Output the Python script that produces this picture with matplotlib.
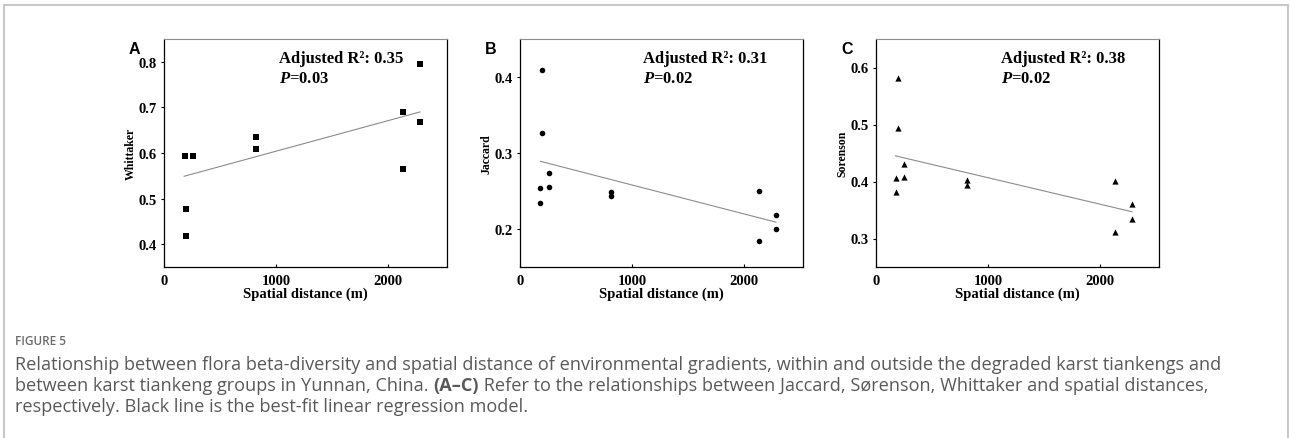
import numpy as np
import matplotlib
matplotlib.use("Agg")
import matplotlib.pyplot as plt
from matplotlib.patches import Rectangle

plt.rcParams['mathtext.fontset'] = 'custom'
plt.rcParams['mathtext.it'] = 'Liberation Serif:italic:bold'
plt.rcParams['mathtext.rm'] = 'Liberation Serif:bold'

# Panel A - Whittaker
whit_x = [183, 260, 198, 198, 817, 817, 2130, 2130, 2283, 2283]
whit_y = [0.594, 0.594, 0.477, 0.419, 0.636, 0.609, 0.689, 0.564, 0.796, 0.667]
whit_fit_x = [180, 2283]
whit_fit_y = [0.549, 0.690]

# Panel B - Jaccard
jac_x = [196, 196, 255, 255, 175, 175, 815, 815, 2133, 2133, 2283, 2283]
jac_y = [0.409, 0.326, 0.274, 0.255, 0.254, 0.234, 0.249, 0.244, 0.250, 0.184, 0.219, 0.200]
jac_fit_x = [184, 2283]
jac_fit_y = [0.289, 0.209]

# Panel C - Sorenson
sor_x = [195, 195, 254, 254, 174, 174, 814, 814, 2130, 2130, 2283, 2283]
sor_y = [0.582, 0.493, 0.431, 0.408, 0.406, 0.381, 0.402, 0.393, 0.401, 0.312, 0.360, 0.335]
sor_fit_x = [174, 2283]
sor_fit_y = [0.445, 0.347]

panels = [
    dict(letter="A", x=whit_x, y=whit_y, fx=whit_fit_x, fy=whit_fit_y, marker="s",
         ylabel="Whittaker", ylim=(0.35, 0.85), yticks=[0.4, 0.5, 0.6, 0.7, 0.8],
         r2="0.35", p="0.03", left=164, tx=0.406),
    dict(letter="B", x=jac_x, y=jac_y, fx=jac_fit_x, fy=jac_fit_y, marker="o",
         ylabel="Jaccard", ylim=(0.15, 0.45), yticks=[0.2, 0.3, 0.4],
         r2="0.31", p="0.02", left=520, tx=0.435),
    dict(letter="C", x=sor_x, y=sor_y, fx=sor_fit_x, fy=sor_fit_y, marker="^",
         ylabel="Sorenson", ylim=(0.25, 0.65), yticks=[0.3, 0.4, 0.5, 0.6],
         r2="0.38", p="0.02", left=876, tx=0.44),
]

W, H = 1290, 439
fig = plt.figure(figsize=(12.9, 4.39), dpi=100)
serif = "Liberation Serif"

for p in panels:
    ax = fig.add_axes([p["left"] / W, 1 - 268 / H, 283 / W, 228 / H])
    ms = 16 if p["marker"] != "^" else 20
    ax.scatter(p["x"], p["y"], marker=p["marker"], s=ms, color="black", linewidths=0)
    ax.plot(p["fx"], p["fy"], color="#8c8c8c", lw=0.8)
    ax.set_xlim(0, 2525)
    ax.set_ylim(*p["ylim"])
    ax.set_xticks([0, 1000, 2000])
    ax.set_yticks(p["yticks"])
    ax.set_yticklabels([f"{v:.1f}" for v in p["yticks"]])
    for lab in ax.get_xticklabels() + ax.get_yticklabels():
        lab.set_fontfamily(serif)
        lab.set_fontweight("bold")
        lab.set_fontsize(10.5)
    ax.tick_params(axis="y", direction="out", length=2.5, width=0.8, pad=3)
    ax.tick_params(axis="x", direction="in", length=2.5, width=0.8, pad=5)
    for side in ["left", "bottom", "right"]:
        ax.spines[side].set_linewidth(0.9)
    ax.spines["top"].set_color("#8c8c8c")
    ax.spines["top"].set_linewidth(0.8)
    ax.set_xlabel("Spatial distance (m)", fontfamily=serif, fontweight="bold",
                  fontsize=10.5, labelpad=0)
    ax.set_ylabel(p["ylabel"], fontfamily=serif, fontweight="bold", fontsize=8.5, labelpad=1)
    ax.text(p["tx"], 0.95, "Adjusted R\u00b2: " + p["r2"], transform=ax.transAxes,
            fontfamily=serif, fontweight="bold", fontsize=12, va="top")
    ax.text(p["tx"], 0.865, "$P$=" + p["p"], transform=ax.transAxes,
            fontfamily=serif, fontweight="bold", fontsize=12, va="top")
    fig.text((p["left"] - 35) / W, 1 - 42 / H, p["letter"], fontfamily="Liberation Sans",
             fontweight="bold", fontsize=11.5, va="top")

# caption
cap_color = "#595959"
cap_font = "Open Sans"
fig.text(15 / W, 1 - 342 / H, "FIGURE 5", fontfamily=cap_font, fontweight="semibold",
         fontsize=8.5, color="#6b6b6b", va="center")

renderer = fig.canvas.get_renderer()


def write_line(y, parts):
    x = 15
    for txt, weight in parts:
        t = fig.text(x / W, 1 - y / H, txt, fontfamily=cap_font, fontweight=weight,
                     fontsize=13.1, color=cap_color, va="center")
        x += t.get_window_extent(renderer).width


write_line(365, [("Relationship between flora beta-diversity and spatial distance of environmental "
                  "gradients, within and outside the degraded karst tiankengs and", "normal")])
write_line(386, [("between karst tiankeng groups in Yunnan, China. ", "normal"),
                 ("(A\u2013C)", "bold"),
                 (" Refer to the relationships between Jaccard, S\u00f8renson, Whittaker and "
                  "spatial distances,", "normal")])
write_line(407, [("respectively. Black line is the best-fit linear regression model.", "normal")])

# outer frame
fig.patches.append(Rectangle((4 / W, -0.1), 1284 / W, 1.1 - 6 / H, transform=fig.transFigure,
                             fill=False, edgecolor="#c8c8c8", lw=1.5))

fig.savefig("out.png", dpi=100)
